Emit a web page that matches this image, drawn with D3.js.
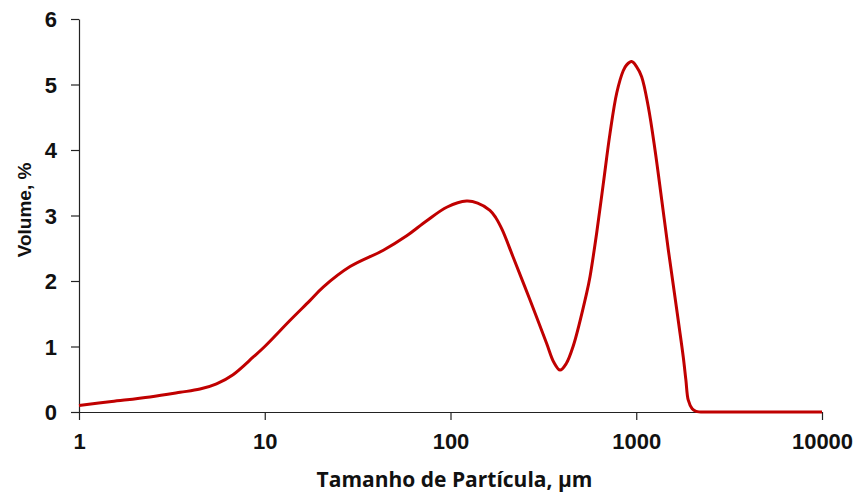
<!DOCTYPE html>
<html>
<head>
<meta charset="utf-8">
<script src="https://cdn.jsdelivr.net/npm/d3@7"></script>
<style>
  html, body { margin: 0; padding: 0; background: #fff; }
  svg { display: block; }
</style>
</head>
<body>
<svg id="chart" width="859" height="492"></svg>
<script>
// Particle size (µm) and volume (%)
const sizes = [1, 1.5, 2.41, 3.5, 4.48, 5.5, 6.75, 8.68, 10, 13.7, 17.5, 20.7, 28.8, 43.5, 58.1, 74.5,
  96, 122, 140, 163, 175, 190, 217, 268, 329, 360, 389, 420, 457, 541, 564, 612, 665, 722, 785, 851, 888, 945,
  1005, 1069, 1161, 1262, 1371, 1489, 1597, 1692, 1791, 1850, 1906, 2000, 2100, 2395, 3000, 5000, 10000];
const volumes = [0.10, 0.16, 0.23, 0.30, 0.35, 0.43, 0.57, 0.84, 1.00, 1.40, 1.70, 1.91, 2.22, 2.47, 2.69, 2.92,
  3.13, 3.22, 3.19, 3.08, 2.97, 2.78, 2.37, 1.71, 1.05, 0.76, 0.64, 0.74, 1.00, 1.82, 2.07, 2.73, 3.49, 4.25, 4.87, 5.21, 5.30, 5.35,
  5.27, 5.12, 4.66, 4.00, 3.24, 2.47, 1.86, 1.35, 0.84, 0.49, 0.18, 0.05, 0.01, 0.00, 0.00, 0.00, 0.00];
const xTicks = [1, 10, 100, 1000, 10000];
const yTicks = [0, 1, 2, 3, 4, 5, 6];
const xTitle = "Tamanho de Partícula, µm";
const yTitle = "Volume, %";

(function () {
const svg = d3.select("#chart");
const mLeft = 79, mRight = 822, mTop = 19, mBottom = 412;

const x = d3.scaleLog().domain([1, 10000]).range([mLeft, mRight]);
const y = d3.scaleLinear().domain([0, 6]).range([mBottom, mTop]);

const axisColor = "#222";
const tickFont = "'Liberation Sans', Arial, sans-serif";

const yAxis = svg.append("g")
  .attr("transform", `translate(${mLeft},0)`)
  .call(d3.axisLeft(y).tickValues(yTicks).tickFormat(d3.format("d")).tickSize(8).tickPadding(14).tickSizeOuter(0));
const xAxis = svg.append("g")
  .attr("transform", `translate(0,${mBottom})`)
  .call(d3.axisBottom(x).tickValues(xTicks).tickFormat(d3.format("d")).tickSize(8).tickPadding(13).tickSizeOuter(0));

[yAxis, xAxis].forEach(g => {
  g.select(".domain").attr("stroke", axisColor).attr("stroke-width", 1.2);
  g.selectAll(".tick line").attr("stroke", axisColor).attr("stroke-width", 1.2);
  g.selectAll(".tick text")
    .attr("fill", "#111")
    .style("font-family", tickFont)
    .style("font-weight", "bold")
    .style("font-size", "22px");
});
yAxis.selectAll(".tick text").attr("dy", "0.36em");

const data = sizes.map((s, i) => ({ s, v: volumes[i] }));
const line = d3.line()
  .x(d => x(d.s))
  .y(d => Math.min(y(d.v), mBottom))
  .curve(d3.curveCatmullRom.alpha(0.5));

svg.append("path")
  .datum(data)
  .attr("d", line)
  .attr("fill", "none")
  .attr("stroke", "#C00000")
  .attr("stroke-width", 3)
  .attr("stroke-linejoin", "round");

svg.append("text")
  .attr("x", (mLeft + mRight) / 2 + 4)
  .attr("y", 487)
  .attr("text-anchor", "middle")
  .style("font-family", "'Open Sans', sans-serif")
  .style("font-weight", "bold")
  .style("font-size", "21px")
  .attr("fill", "#111")
  .text(xTitle);

svg.append("text")
  .attr("transform", `translate(31,210) rotate(-90)`)
  .attr("text-anchor", "middle")
  .style("font-family", tickFont)
  .style("font-weight", "bold")
  .style("font-size", "19px")
  .attr("fill", "#111")
  .text(yTitle);
})();
</script>
</body>
</html>
